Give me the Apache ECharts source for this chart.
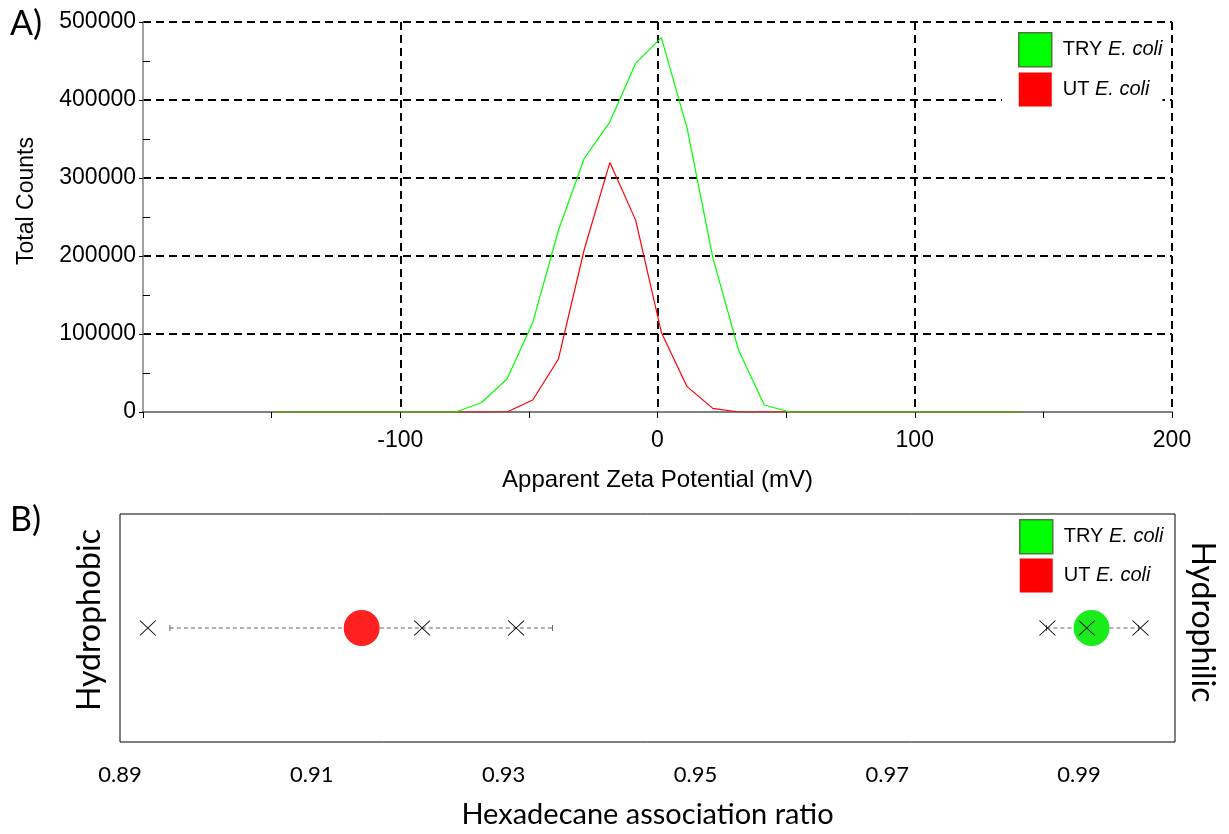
<!DOCTYPE html>
<html>
<head>
<meta charset="utf-8">
<script src="https://cdn.jsdelivr.net/npm/echarts@6/dist/echarts.min.js"></script>
<style>
  html, body { margin: 0; background: #fff; }
  #chart { width: 1229px; height: 834px; }
</style>
</head>
<body>
<div id="chart"></div>
<script>
// A) zeta potential distribution
const zeta = [-148.5, -138.5, -128.5, -118.5, -108.5, -98.5, -88.5, -78.5, -68.5, -58.5,
  -48.5, -38.5, -28.5, -18.5, -8.5, 1.5, 11.5, 21.5, 31.5, 41.5,
  51.5, 61.5, 71.5, 81.5, 91.5, 101.5, 111.5, 121.5, 131.5, 141.5];
const tryCounts = [0, 0, 0, 0, 0, 0, 0, 0, 11900, 42300,
  114500, 233000, 325000, 372000, 447000, 480000, 364000, 198000, 79500, 9000,
  0, 0, 0, 0, 0, 0, 0, 0, 0, 0];
const utCounts = [0, 0, 0, 0, 0, 0, 0, 0, 0, 0,
  15400, 68000, 208000, 320000, 246000, 102000, 32500, 4700, 0, 0,
  0, 0, 0, 0, 0, 0, 0, 0, 0, 0];

// B) hexadecane association ratio
const groups = ['TRY E. coli', 'UT E. coli'];
const groupMeans = [0.9913, 0.9152];
const groupLow = [0.9866, 0.8952];
const groupHigh = [0.9962, 0.9351];
const tryReps = [0.9867, 0.9908, 0.9964];
const utReps = [0.8929, 0.9215, 0.9313];

const GREEN = '#00ff00', RED = '#ff0000';
const SANS = 'Liberation Sans';
const CAL = 'Lato';

const pair = (xs, ys) => xs.map((x, i) => [x, ys[i]]);
const legendText = {
  fontFamily: SANS, fontSize: 20, color: '#000', padding: [0, 0, 0, 6],
  rich: { i: { fontFamily: SANS, fontSize: 20, fontStyle: 'italic', color: '#000' } }
};
const legendData = [
  { name: groups[0], icon: 'rect', itemStyle: { color: GREEN, borderColor: '#4b7a3c', borderWidth: 1.5 } },
  { name: groups[1], icon: 'rect', itemStyle: { color: RED, borderWidth: 0 } }
];
const legendFmt = n => n.replace('E. coli', '{i|E. coli}');
const dashed = { show: true, lineStyle: { color: '#000', width: 2, type: [8, 5] }, showMinLine: false };

const chart = echarts.init(document.getElementById('chart'));
chart.setOption({
  animation: false,
  grid: [
    { left: 143, right: 57, top: 22, bottom: 422 },
    { left: 120, right: 54, top: 514, bottom: 92, show: true, borderColor: '#000', borderWidth: 1 }
  ],
  legend: [
    {
      data: legendData, orient: 'vertical', left: 1002, top: 26, itemWidth: 33, itemHeight: 34, itemGap: 5,
      padding: [6, 0, 5, 16], backgroundColor: '#fff', selectedMode: false,
      formatter: legendFmt, textStyle: legendText
    },
    {
      data: legendData, orient: 'vertical', left: 1019, top: 519, itemWidth: 33, itemHeight: 34, itemGap: 4,
      padding: 0, selectedMode: false, formatter: legendFmt, textStyle: legendText
    }
  ],
  xAxis: [
    {
      type: 'value', gridIndex: 0, min: -200, max: 200, interval: 100,
      name: 'Apparent Zeta Potential (mV)', nameLocation: 'middle', nameGap: 56,
      nameTextStyle: { fontFamily: SANS, fontSize: 24, color: '#000' },
      axisLine: { onZero: false, lineStyle: { color: '#808080', width: 2 } },
      axisTick: { show: true, length: 6, lineStyle: { color: '#000' } },
      minorTick: { show: true, splitNumber: 2, length: 6, lineStyle: { color: '#000' } },
      axisLabel: { formatter: v => (v === -200 ? '' : String(v)), fontFamily: SANS, fontSize: 23, color: '#000', margin: 17 },
      splitLine: dashed
    },
    {
      type: 'value', gridIndex: 1, min: 0.89, max: 1.0, interval: 0.01,
      name: 'Hexadecane association ratio', nameLocation: 'middle', nameGap: 58,
      nameTextStyle: { fontFamily: CAL, fontSize: 29, color: '#000' },
      axisLine: { show: false }, axisTick: { show: false }, splitLine: { show: false },
      axisLabel: {
        formatter: v => (Math.round(v * 100) % 2 === 1 ? v.toFixed(2) : ''),
        fontFamily: CAL, fontSize: 22, color: '#000', margin: 22
      }
    }
  ],
  yAxis: [
    {
      type: 'value', gridIndex: 0, min: 0, max: 500000, interval: 100000,
      name: 'Total Counts', nameLocation: 'middle', nameGap: 105,
      nameTextStyle: { fontFamily: SANS, fontSize: 23, color: '#000', padding: [0, 0, 0, 32] },
      axisLine: { show: true, onZero: false, lineStyle: { color: '#808080', width: 1.5 } },
      axisTick: { show: true, length: 4, lineStyle: { color: '#000' } },
      minorTick: { show: true, splitNumber: 2, length: -7, lineStyle: { color: '#000' } },
      axisLabel: { formatter: v => String(v), fontFamily: SANS, fontSize: 23, color: '#000', margin: 7 },
      splitLine: dashed
    },
    { type: 'value', gridIndex: 1, min: 0, max: 2, show: false }
  ],
  graphic: [
    { type: 'text', left: 10, top: 7, style: { text: 'A)', fontFamily: CAL, fontSize: 34, fill: '#000' } },
    { type: 'text', left: 10, top: 503, style: { text: 'B)', fontFamily: CAL, fontSize: 34, fill: '#000' } },
    { type: 'text', x: 90, y: 620, rotation: Math.PI / 2,
      style: { text: 'Hydrophobic', fontFamily: CAL, fontSize: 32, fill: '#000', align: 'center', verticalAlign: 'middle' } },
    { type: 'text', x: 1202, y: 622, rotation: -Math.PI / 2,
      style: { text: 'Hydrophilic', fontFamily: CAL, fontSize: 32, fill: '#000', align: 'center', verticalAlign: 'middle' } }
  ],
  series: [
    {
      type: 'line', name: groups[1], xAxisIndex: 0, yAxisIndex: 0, data: pair(zeta, utCounts),
      symbol: 'none', lineStyle: { color: RED, width: 1.2 }, itemStyle: { color: RED }
    },
    {
      type: 'line', name: groups[0], xAxisIndex: 0, yAxisIndex: 0, data: pair(zeta, tryCounts),
      symbol: 'none', lineStyle: { color: GREEN, width: 1.2 }, itemStyle: { color: GREEN }
    },
    {
      type: 'custom', name: 'sd', xAxisIndex: 1, yAxisIndex: 1, z: 1,
      data: groups.map((g, i) => [groupLow[i], groupHigh[i], 1]),
      encode: { x: [0, 1], y: 2 },
      renderItem: (params, api) => {
        const a = api.coord([api.value(0), api.value(2)]);
        const b = api.coord([api.value(1), api.value(2)]);
        const st = { stroke: '#666', lineWidth: 1 };
        return {
          type: 'group', children: [
            { type: 'line', shape: { x1: a[0], y1: a[1], x2: b[0], y2: b[1] }, style: { ...st, lineDash: [4, 3] } },
            { type: 'line', shape: { x1: a[0], y1: a[1] - 3, x2: a[0], y2: a[1] + 3 }, style: st },
            { type: 'line', shape: { x1: b[0], y1: b[1] - 3, x2: b[0], y2: b[1] + 3 }, style: st }
          ]
        };
      }
    },
    {
      type: 'scatter', name: groups[1], xAxisIndex: 1, yAxisIndex: 1, z: 3,
      data: [[groupMeans[1], 1]], symbol: 'circle', symbolSize: 36, itemStyle: { color: '#ff2020', opacity: 1 }
    },
    {
      type: 'scatter', name: groups[0], xAxisIndex: 1, yAxisIndex: 1, z: 3,
      data: [[groupMeans[0], 1]], symbol: 'circle', symbolSize: 36, itemStyle: { color: '#1aeb1a', opacity: 1 }
    },
    {
      type: 'scatter', name: 'replicates', xAxisIndex: 1, yAxisIndex: 1, z: 4,
      data: tryReps.concat(utReps).map(v => [v, 1]),
      symbol: 'path://M0,0L16,15M16,0L0,15', symbolSize: [16, 15],
      itemStyle: { color: 'none', borderColor: '#000', borderWidth: 1, opacity: 1 }
    }
  ]
});
</script>
</body>
</html>
